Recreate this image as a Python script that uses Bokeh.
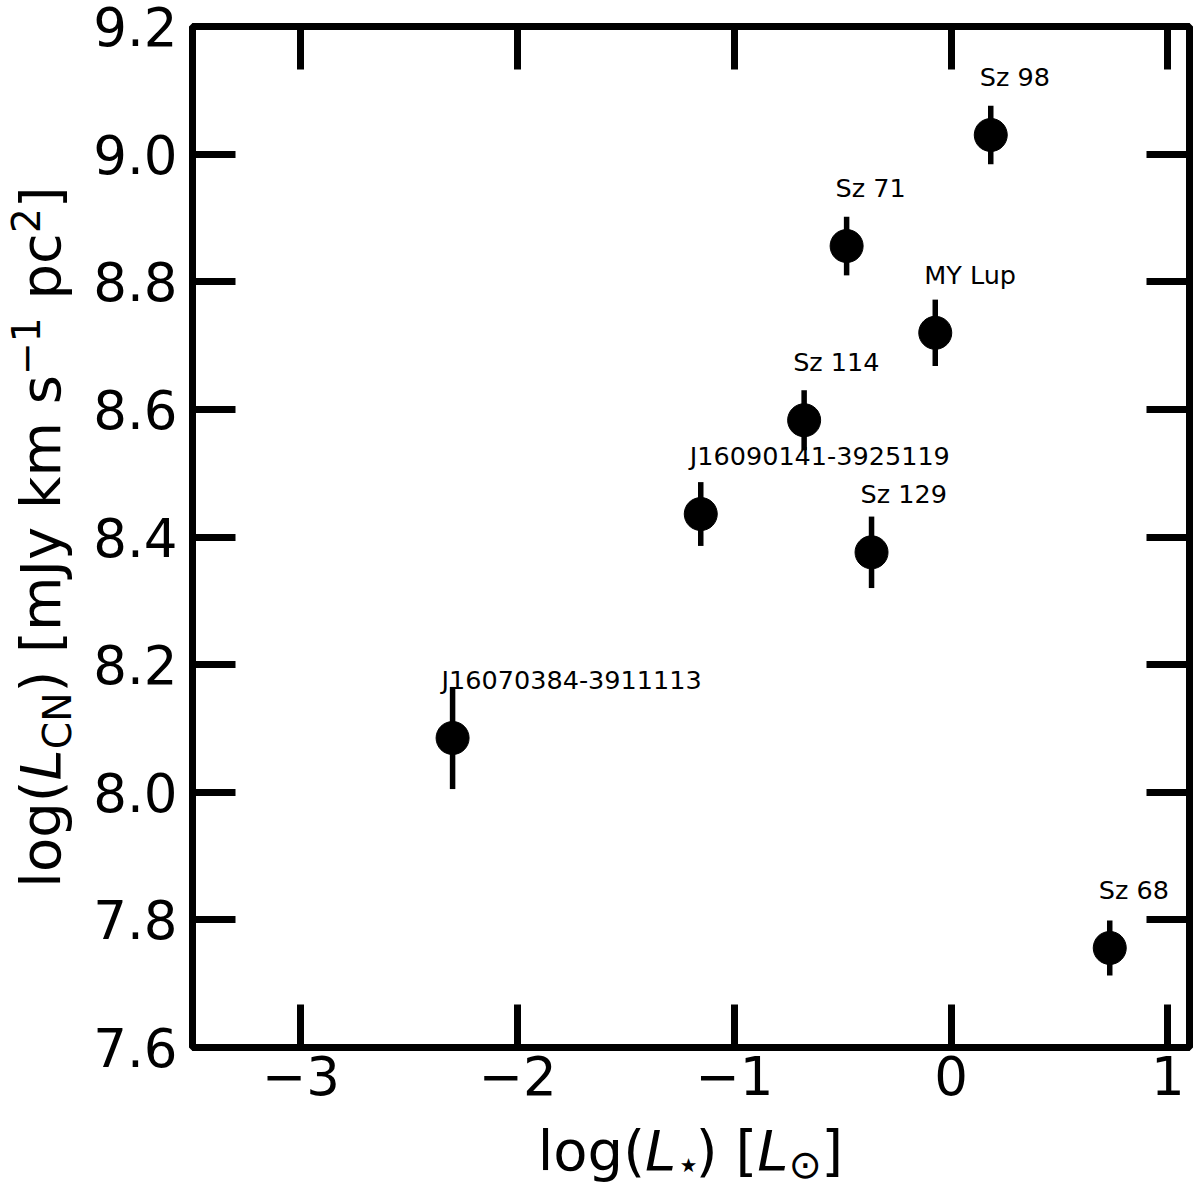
from bokeh.plotting import figure
from bokeh.layouts import row, column
from bokeh.models import (FixedTicker, LinearAxis, CustomJSTickFormatter,
                          NumeralTickFormatter, Range1d)
from bokeh.core.properties import value
from bokeh.embed import file_html
from bokeh.resources import INLINE

# ---------------- data ----------------
names = ["J16070384-3911113", "J16090141-3925119", "Sz 114", "Sz 129",
         "Sz 71", "MY Lup", "Sz 98", "Sz 68"]
log_lstar = [-2.300, -1.155, -0.678, -0.367, -0.482, -0.073, 0.183, 0.732]
log_lcn = [8.085, 8.436, 8.583, 8.376, 8.856, 8.720, 9.030, 7.756]
log_lcn_err = [0.080, 0.050, 0.047, 0.056, 0.046, 0.052, 0.046, 0.043]

x_ticks = [-3, -2, -1, 0, 1]
y_ticks = [7.6, 7.8, 8.0, 8.2, 8.4, 8.6, 8.8, 9.0, 9.2]
x_lim = (-3.5, 1.1)
y_lim = (7.6, 9.2)

# ---------------- layout sizes ----------------
TOTAL_W = 1196
YW = 90                      # strip holding the rotated y label
MW = TOTAL_W - YW            # main figure width
ML, MR, MT, MB = 101, 7, 26, 62
FH = 1021                    # frame height
MH = MT + FH + MB            # main figure height
XH = 79                      # strip holding the x label
FONT = "DejaVu Sans"
TICK_FS = 53
LAB_FS = 56
MID = 0.35                   # baseline correction (fraction of font size)

p = figure(width=MW, height=MH, x_range=Range1d(*x_lim), y_range=Range1d(*y_lim),
           output_backend="svg", toolbar_location=None,
           min_border_left=ML, min_border_right=MR, min_border_top=MT,
           min_border_bottom=MB)
p.grid.visible = False
p.outline_line_color = "black"
p.outline_line_width = 7
p.outline_line_alpha = 1.0
p.background_fill_color = "white"
p.border_fill_color = "white"

bottom = p.xaxis[0]
left = p.yaxis[0]

xfmt = CustomJSTickFormatter(code="return tick < 0 ? '\u2212' + Math.abs(tick) : tick.toString();")
blank = CustomJSTickFormatter(code="return '';")

bottom.ticker = FixedTicker(ticks=x_ticks)
bottom.formatter = xfmt
left.ticker = FixedTicker(ticks=y_ticks)
left.formatter = NumeralTickFormatter(format="0.0")

top = LinearAxis(ticker=FixedTicker(ticks=x_ticks), formatter=blank)
right = LinearAxis(ticker=FixedTicker(ticks=y_ticks), formatter=blank)
p.add_layout(top, "above")
p.add_layout(right, "right")

for ax in [bottom, left, top, right]:
    ax.major_tick_in = 43
    ax.major_tick_out = 0
    ax.major_tick_line_width = 7
    ax.major_tick_line_color = "black"
    ax.minor_tick_line_color = None
    ax.axis_line_color = None
    ax.major_label_text_font = FONT
    ax.major_label_text_color = "black"
for ax in [bottom, left]:
    ax.major_label_text_font_size = f"{TICK_FS}px"
bottom.major_label_standoff = 8
left.major_label_standoff = 15
for ax in [top, right]:
    ax.major_label_text_font_size = "0px"
    ax.major_label_standoff = 0

# ---------------- marks ----------------
lower = [v - e for v, e in zip(log_lcn, log_lcn_err)]
upper = [v + e for v, e in zip(log_lcn, log_lcn_err)]
p.segment(x0=log_lstar, y0=lower, x1=log_lstar, y1=upper,
          line_color="black", line_width=5.5)
p.scatter(x=log_lstar, y=log_lcn, size=33, color="black")
p.text(x=log_lstar, y=log_lcn, text=names, x_offset=-11, y_offset=-58,
       text_font=value(FONT), text_font_size="25.5px", text_color="black",
       text_align="left", text_baseline="alphabetic")

# ---------------- axis labels built from text pieces ----------------
WID = {' ': 0.318, '(': 0.390, ')': 0.390, '[': 0.390, ']': 0.390,
       '\u2212': 0.838, '1': 0.636, '2': 0.636, 'C': 0.698, 'J': 0.295,
       'L': 0.557, 'N': 0.748, 'c': 0.550, 'g': 0.635, 'k': 0.579,
       'l': 0.278, 'm': 0.974, 'o': 0.612, 'p': 0.635, 's': 0.521,
       'y': 0.592, '\u22c6': 0.5, '\u2299': 0.838}


def adv(s, size):
    return sum(WID.get(c, 0.6) for c in s) * size


def lead(s, size):
    # SVG collapses leading blanks, so they are turned into an offset
    return (len(s) - len(s.lstrip(' '))) * WID[' '] * size


def strip(w, h, yr, mt=0, mb=0):
    f = figure(width=w, height=h, x_range=Range1d(0, w), y_range=Range1d(*yr),
               output_backend="svg", toolbar_location=None,
               min_border_left=0, min_border_right=0, min_border_top=mt,
               min_border_bottom=mb)
    f.axis.visible = False
    f.grid.visible = False
    f.outline_line_color = None
    f.background_fill_color = "white"
    f.border_fill_color = "white"
    return f


S = 0.7 * LAB_FS
SUB_X = 8
SUB = 11
SUP = 21

xlab = [("log(", LAB_FS, "normal", 0), ("L", LAB_FS, "italic", 0),
        ("\u22c6", S, "normal", -SUB_X), (") [", LAB_FS, "normal", 0),
        ("L", LAB_FS, "italic", 0), ("\u2299", S, "normal", -SUB_X),
        ("]", LAB_FS, "normal", 0)]
ylab = [("log(", LAB_FS, "normal", 0), ("L", LAB_FS, "italic", 0),
        ("CN", S, "normal", -SUB), (") [mJy km s", LAB_FS, "normal", 0),
        ("\u22121", S, "normal", SUP), (" pc", LAB_FS, "normal", 0),
        ("2", S, "normal", SUP), ("]", LAB_FS, "normal", 0)]

# y label strip: its frame lines up with the main frame, y measured in px
# from the frame bottom; text reads upward, baseline 60 px from the left edge
yfig = strip(YW, MH, (0, FH), mt=MT, mb=MB)
tot = sum(adv(t, s) for t, s, _, _ in ylab)
cur = FH / 2 - tot / 2
base_x = 60
for t, s, st, sh in ylab:
    yfig.text(x=[base_x - sh - MID * s], y=[cur + lead(t, s)], text=[t.lstrip(' ')],
              text_font=value(FONT), text_font_size=f"{s:.1f}px",
              text_font_style=st, text_color="black", angle=1.5707963,
              text_align="left", text_baseline="alphabetic")
    cur += adv(t, s)

# x label strip (baseline 1170 px from the page top)
xfig = strip(TOTAL_W, XH, (0, XH))
fw = MW - ML - MR
frame_cx = YW + ML + fw / 2
tot = sum(adv(t, s) for t, s, _, _ in xlab)
cur = frame_cx - tot / 2
base_y = MH + XH - 1170
for t, s, st, sh in xlab:
    xfig.text(x=[cur + lead(t, s)], y=[base_y + sh + MID * s], text=[t.lstrip(' ')],
              text_font=value(FONT), text_font_size=f"{s:.1f}px",
              text_font_style=st, text_color="black",
              text_align="left", text_baseline="alphabetic")
    cur += adv(t, s)

page = column(row(yfig, p, spacing=0), xfig, spacing=0)
open("out.html", "w").write(file_html(page, INLINE))
